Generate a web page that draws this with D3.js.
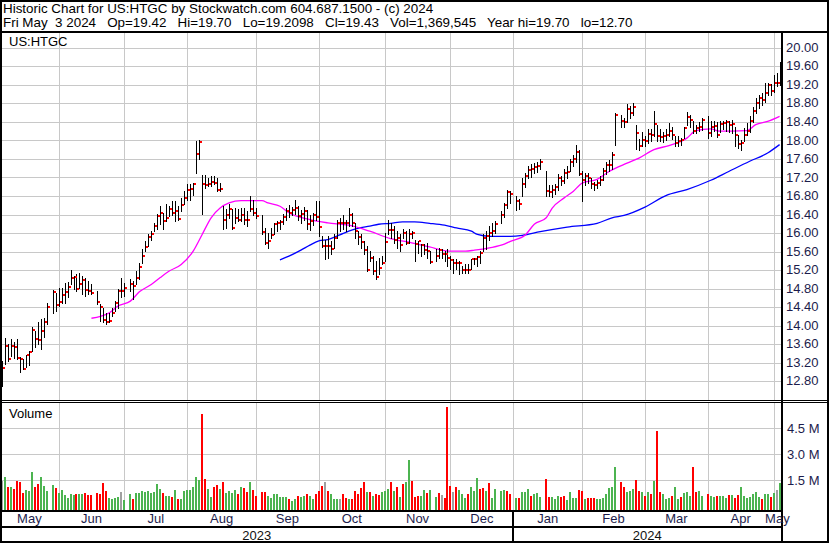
<!DOCTYPE html>
<html><head><meta charset="utf-8">
<script src="https://cdn.jsdelivr.net/npm/d3@7"></script>
<style>
body{margin:0;background:#fff}
svg{display:block}
text{font-family:"Liberation Sans",Arial,Helvetica,sans-serif}
</style>
</head><body>
<svg id="chart" width="830" height="543"></svg>
<script>
// ---------------- DATA ----------------
const titleLine1 = "Historic Chart for US:HTGC by Stockwatch.com 604.687.1500 - (c) 2024";
const titleLine2 = "Fri May  3 2024   Op=19.42   Hi=19.70   Lo=19.2098   Cl=19.43   Vol=1,369,545   Year hi=19.70   lo=12.70";
const symbol = "US:HTGC";
const startDate = "2023-05-05", endDate = "2024-05-03";
const holidays = ["2023-05-29","2023-06-19","2023-07-04","2023-09-04","2023-11-23","2023-12-25",
                  "2024-01-01","2024-01-15","2024-02-19","2024-03-29"];

const highs = [
 13.25,13.75,13.62,13.72,13.66,13.72,13.33,13.29,13.37,13.47,13.99,13.90,14.08,14.15,14.18,14.51,14.77,14.72,
 14.83,14.83,14.94,14.95,15.21,15.08,15.12,15.15,15.08,15.05,14.98,14.92,14.76,14.47,14.40,14.29,14.29,14.40,14.54,14.80,15.05,
 14.94,15.01,14.98,15.19,15.37,15.66,15.84,16.00,16.06,16.23,16.42,16.59,16.45,16.63,16.59,16.70,16.71,16.59,16.77,16.91,
 17.06,17.06,17.09,17.99,18.03,17.27,17.27,17.20,17.24,17.24,17.20,17.09,16.59,16.52,16.63,16.52,16.55,16.52,16.55,16.55,16.48,16.81,16.73,
 16.55,16.41,16.12,16.02,16.12,16.23,16.28,16.30,16.42,16.55,16.62,16.58,16.72,16.60,16.50,16.58,16.50,16.40,16.45,16.70,
 16.70,15.95,15.87,15.95,15.84,15.98,16.30,16.34,16.41,16.30,16.55,16.45,16.23,16.05,15.98,15.84,15.73,15.62,15.51,15.41,15.48,15.51,
 16.02,16.30,16.23,16.16,16.05,15.98,16.09,16.05,16.09,16.05,15.87,15.84,15.77,15.77,15.80,15.62,15.66,15.69,15.66,15.62,15.66,
 15.51,15.44,15.44,15.41,15.30,15.34,15.34,15.45,15.48,15.51,15.62,15.98,16.05,16.16,16.23,16.27,16.48,16.66,16.95,16.92,
 16.80,16.75,17.20,17.30,17.45,17.50,17.52,17.55,17.62,17.34,17.05,17.05,17.08,17.28,17.25,17.40,17.45,17.62,17.70,17.92,17.80,
 17.34,17.30,17.30,17.20,17.12,17.15,17.25,17.42,17.55,17.58,17.75,18.60,18.55,18.50,18.80,18.75,18.82,18.35,18.05,18.20,
 18.10,18.25,18.25,18.65,18.35,18.25,18.20,18.25,18.38,18.30,18.10,18.10,18.06,18.31,18.62,18.55,18.42,18.35,18.40,18.50,
 18.53,18.42,18.42,18.40,18.44,18.44,18.45,18.42,18.45,18.30,18.13,18.02,18.28,18.39,18.53,18.74,18.92,19.00,19.03,19.25,19.25,19.22,
 19.43,19.46,19.70];

const lows = [
 12.70,13.18,13.25,13.36,13.32,13.29,13.00,13.07,13.11,13.15,13.47,13.54,13.61,13.50,13.76,14.04,14.29,14.32,
 14.44,14.50,14.51,14.62,14.90,14.80,14.76,14.83,14.69,14.65,14.69,14.70,14.47,14.11,14.08,14.04,14.08,14.22,14.33,14.40,14.62,
 14.65,14.76,14.58,14.90,15.01,15.37,15.62,15.74,15.85,16.05,16.09,16.20,16.09,16.27,16.38,16.41,16.27,16.30,16.48,16.63,
 16.73,16.73,16.84,17.31,17.60,16.43,16.98,17.02,17.02,17.06,16.91,16.91,16.09,16.12,16.34,16.09,16.23,16.27,16.27,16.20,16.16,16.48,16.41,
 16.34,16.00,15.77,15.69,15.91,16.00,16.05,16.10,16.20,16.30,16.36,16.40,16.42,16.30,16.22,16.30,16.10,16.08,16.18,16.30,
 15.95,15.70,15.44,15.48,15.55,15.69,15.91,16.05,16.09,16.05,16.16,16.16,15.91,15.77,15.69,15.55,15.19,15.41,15.12,15.01,15.12,15.34,
 15.41,15.98,15.91,15.80,15.69,15.62,15.91,15.77,15.80,15.91,15.41,15.58,15.51,15.55,15.48,15.37,15.41,15.48,15.48,15.41,15.30,
 15.23,15.15,15.23,15.12,15.15,15.15,15.15,15.23,15.34,15.30,15.37,15.62,15.66,15.87,15.94,16.02,16.23,16.35,16.55,16.65,
 16.50,16.52,16.81,17.00,17.20,17.22,17.30,17.32,17.40,16.81,16.80,16.78,16.85,16.95,17.05,17.10,17.20,17.35,17.45,17.55,17.27,
 16.70,17.05,17.10,16.98,16.95,16.98,17.05,17.15,17.28,17.35,17.40,17.92,18.30,18.30,18.40,18.50,18.55,17.83,17.80,17.90,
 17.90,17.95,18.00,18.10,18.00,18.00,17.98,18.02,18.10,18.05,17.88,17.90,17.92,18.06,18.35,18.30,18.17,18.17,18.21,18.24,
 18.06,18.10,18.21,18.08,18.20,18.25,18.22,18.20,18.18,17.90,17.85,17.80,18.00,18.12,18.20,18.40,18.60,18.71,18.78,18.85,19.00,19.00,
 19.05,19.18,19.21];

const closes = [
 13.09,13.58,13.30,13.58,13.56,13.32,13.30,13.07,13.37,13.45,13.91,13.73,13.71,13.90,14.10,14.42,14.74,14.45,
 14.52,14.68,14.74,14.84,15.05,15.06,14.80,14.92,15.00,14.78,14.75,14.72,14.52,14.42,14.14,14.09,14.12,14.29,14.50,14.76,14.76,
 14.83,14.90,14.87,15.05,15.28,15.52,15.71,15.92,16.00,16.17,16.38,16.45,16.27,16.34,16.52,16.45,16.48,16.32,16.61,16.77,
 16.95,16.96,17.06,17.72,17.98,17.06,17.04,17.07,17.11,17.10,16.94,16.97,16.30,16.39,16.53,16.12,16.34,16.30,16.41,16.30,16.29,16.52,16.45,
 16.37,16.04,15.80,15.84,15.96,16.20,16.22,16.25,16.35,16.48,16.44,16.50,16.56,16.38,16.42,16.48,16.20,16.28,16.40,16.36,
 16.15,15.74,15.74,15.74,15.66,15.90,16.23,16.23,16.23,16.23,16.41,16.23,16.05,15.92,15.82,15.64,15.21,15.48,15.18,15.06,15.26,15.36,
 15.82,16.08,16.08,15.85,15.90,15.75,16.02,15.79,15.99,16.02,15.77,15.84,15.75,15.64,15.62,15.39,15.51,15.65,15.56,15.56,15.48,
 15.43,15.37,15.37,15.37,15.21,15.21,15.21,15.44,15.44,15.49,15.58,15.91,15.94,16.02,16.05,16.20,16.40,16.62,16.90,16.86,
 16.71,16.64,17.07,17.25,17.38,17.40,17.43,17.45,17.54,16.91,16.90,16.95,17.00,17.20,17.14,17.31,17.33,17.54,17.61,17.76,17.29,
 17.16,17.24,17.20,17.08,17.05,17.10,17.16,17.34,17.47,17.49,17.70,18.57,18.42,18.41,18.69,18.60,18.74,18.17,17.88,18.03,
 17.99,18.15,18.13,18.36,18.10,18.08,18.10,18.13,18.21,18.13,17.95,17.99,18.01,18.28,18.51,18.45,18.21,18.28,18.30,18.45,
 18.18,18.31,18.33,18.13,18.36,18.38,18.40,18.35,18.37,18.13,17.94,17.95,18.13,18.21,18.42,18.65,18.82,18.92,18.88,19.03,19.20,19.08,
 19.26,19.26,19.43];

// volume in millions of shares
const volumes = [
 1.48,1.71,1.10,1.13,0.98,1.46,1.40,0.79,0.94,0.88,1.98,1.10,1.29,1.71,1.19,0.88,1.23,1.07,
 0.79,0.94,0.65,0.50,0.71,0.65,0.71,0.71,0.71,0.79,0.65,0.65,0.75,0.71,1.36,0.88,0.46,0.40,0.46,0.52,0.81,
 0.36,0.71,0.40,0.75,0.79,0.88,0.85,0.88,0.79,0.85,1.29,0.98,0.75,0.59,0.59,0.55,0.94,0.40,0.40,0.88,
 0.94,0.94,1.10,1.71,1.52,5.33,1.56,1.00,0.55,1.13,1.23,0.98,1.38,0.79,0.90,0.79,0.94,0.71,1.10,1.04,0.84,1.38,0.94,
 0.61,0.84,0.84,0.59,0.50,0.71,0.71,0.55,0.52,0.52,0.42,0.32,0.42,0.59,0.55,0.59,0.71,0.61,0.42,0.71,
 0.90,1.17,1.42,0.90,0.71,0.42,0.42,0.42,0.71,0.50,0.42,0.42,0.90,0.71,1.07,1.42,0.84,0.84,0.61,0.71,0.65,0.84,
 0.90,1.00,1.42,0.90,1.10,0.55,1.29,1.42,2.67,1.48,0.55,0.59,0.59,0.94,0.75,0.94,0.55,0.75,0.65,0.50,5.75,
 1.17,0.84,1.10,0.94,0.69,0.50,0.71,1.10,0.90,1.61,1.00,1.04,0.90,1.33,0.50,1.00,0.90,0.94,0.88,0.71,
 0.50,0.50,0.81,0.81,1.00,0.59,0.69,0.75,0.52,1.58,0.55,0.52,0.42,0.59,0.52,0.59,0.36,0.81,0.50,0.50,0.94,
 0.88,0.42,0.46,0.46,0.46,0.42,0.42,0.50,0.71,1.07,1.13,2.28,1.42,1.13,0.84,0.90,1.00,1.52,0.90,0.84,
 0.61,0.84,0.69,1.46,4.34,0.84,0.71,0.42,0.50,0.59,1.10,0.42,0.55,0.75,0.84,0.59,2.28,0.84,0.88,0.59,
 0.71,0.59,0.55,0.59,0.59,0.59,0.46,0.65,0.65,0.50,0.65,1.10,0.59,0.50,0.55,0.71,0.84,0.52,0.42,0.71,0.69,0.55,
 0.75,0.94,1.37];

// volume bar colour: G = up, R = down, n = unchanged
const volumeDirection = (
 "nGRGRRRRGGGRRGGGGR" + "GGGGGGRGGRRRRRRRGGGGn" + "GGRGGGGGGGGGRGGRGRGG" +
 "GGGGGRRGGRRGRGGGGRGRRGR" + "RRRGGGGGGGRGGRGGRGGR" + "RRnRGGGnRRGRRRRRGRGRRG" +
 "GGRGRGRGGRRRGGRGGRnRR" + "RnRGGGRGGGRRGRGGGGRR" + "GRGGGRGGGRRGGGRRGGGGR" +
 "RGRRRGGGGGGGRRGGGRRG" + "RGRGRRGGGRGGRGGGRRGG" + "RGGRGGGRGRRGGGGGGGRGGR" + "GnG").split("");

// moving averages
const ma50Dates = ["2023-06-16","2023-06-21","2023-06-26","2023-06-29","2023-07-05","2023-07-10","2023-07-14","2023-07-19",
 "2023-07-24","2023-07-28","2023-08-03","2023-08-08","2023-08-11","2023-08-16","2023-08-21","2023-08-25","2023-09-05",
 "2023-09-07","2023-09-13","2023-09-18","2023-09-27","2023-10-05","2023-10-16","2023-10-25","2023-11-03","2023-11-14",
 "2023-11-22","2023-12-01","2023-12-08","2023-12-13","2023-12-20","2023-12-27","2023-12-29","2024-01-05","2024-01-10",
 "2024-01-16","2024-01-18","2024-01-24","2024-01-29","2024-02-01","2024-02-08","2024-02-14","2024-02-22","2024-02-28",
 "2024-03-06","2024-03-13","2024-03-21","2024-03-26","2024-04-02","2024-04-05","2024-04-11","2024-04-18","2024-04-23",
 "2024-04-29","2024-05-03"];
const ma50Values = [14.17,14.21,14.29,14.44,14.54,14.74,14.90,15.05,15.19,15.33,15.62,15.98,16.34,16.55,16.66,16.71,16.71,
 16.66,16.59,16.45,16.30,16.23,16.18,16.05,15.89,15.80,15.71,15.62,15.62,15.64,15.69,15.77,15.83,15.97,16.20,16.34,16.55,
 16.77,16.91,17.09,17.17,17.34,17.52,17.63,17.81,17.90,18.06,18.22,18.26,18.21,18.21,18.22,18.35,18.42,18.53];

const ma200Dates = ["2023-09-13","2023-09-18","2023-09-22","2023-09-27","2023-10-02","2023-10-05","2023-10-11","2023-10-16",
 "2023-10-19","2023-10-25","2023-10-30","2023-11-03","2023-11-09","2023-11-15","2023-11-22","2023-11-29","2023-12-05",
 "2023-12-12","2023-12-14","2023-12-20","2023-12-29","2024-01-04","2024-01-12","2024-01-25","2024-02-08","2024-02-15",
 "2024-02-21","2024-03-01","2024-03-12","2024-03-21","2024-04-02","2024-04-10","2024-04-19","2024-04-29","2024-05-03"];
const ma200Values = [15.43,15.51,15.64,15.75,15.84,15.87,15.97,16.05,16.11,16.16,16.20,16.22,16.25,16.25,16.22,16.18,16.12,
 16.05,15.98,15.94,15.94,15.96,16.04,16.14,16.22,16.34,16.39,16.57,16.82,16.95,17.15,17.34,17.56,17.74,17.92];

const priceTicks = [12.8,13.2,13.6,14.0,14.4,14.8,15.2,15.6,16.0,16.4,16.8,17.2,17.6,18.0,18.4,18.8,19.2,19.6,20.0];
const volumeTicks = [1.5,3.0,4.5];
const volumeTickLabels = ["1.5 M","3.0 M","4.5 M"];

// ---------------- CALENDAR ----------------
const DAY = 864e5;
const parse = s => { const [a,b,c] = s.split("-").map(Number); return Date.UTC(a,b-1,c); };
const fmt = t => new Date(t).toISOString().slice(0,10);
const weekdays = [];
for (let t = parse(startDate); t <= parse(endDate); t += DAY) {
  const wd = new Date(t).getUTCDay();
  if (wd !== 0 && wd !== 6) weekdays.push(t);
}
const slotOf = new Map(weekdays.map((t,i) => [fmt(t), i]));
const tradingDates = weekdays.map(fmt).filter(s => !holidays.includes(s));
const bars = tradingDates.map((d,i) => ({date:d, slot:slotOf.get(d), h:highs[i], l:lows[i], c:closes[i], v:volumes[i], dir:volumeDirection[i]}));

// ---------------- LAYOUT ----------------
const svg = d3.select("#chart");
const plotL = 0.2, plotR = 781.1;
const priceTop = 33, priceBot = 400;
const volTop = 403, volBot = 509.5;
const x = d3.scaleLinear().domain([-0.5, weekdays.length - 0.5]).range([plotL, plotR]);
const y = d3.scaleLinear().domain([12.8, 20.0]).range([381.7, 48.3]);
const yv = d3.scaleLinear().domain([0, 4.5]).range([506.3, 428.3]);
const px = v => Math.round(v) + 0.5;
const navy = "#1c1c4c", grid = "#c8c8c8";

svg.append("rect").attr("width",830).attr("height",543).attr("fill","#fff");

// month boundaries
const monthStarts = [];
weekdays.forEach((t,i) => {
  if (i > 0 && new Date(t).getUTCMonth() !== new Date(weekdays[i-1]).getUTCMonth()) monthStarts.push(i);
});
const gx = monthStarts.map(i => x(i));

// gridlines
const g = svg.append("g").attr("shape-rendering","crispEdges").attr("stroke",grid).attr("stroke-width",1);
g.selectAll(".vg").data(gx).join("line")
  .attr("x1",d=>px(d)).attr("x2",d=>px(d)).attr("y1",priceTop).attr("y2",priceBot);
g.selectAll(".vg2").data(gx).join("line")
  .attr("x1",d=>px(d)).attr("x2",d=>px(d)).attr("y1",volTop).attr("y2",volBot+0.5);
g.selectAll(".hg").data(priceTicks).join("line")
  .attr("x1",2).attr("x2",781).attr("y1",d=>px(y(d)-0.5)).attr("y2",d=>px(y(d)-0.5));
g.selectAll(".hv").data(volumeTicks).join("line")
  .attr("x1",2).attr("x2",781).attr("y1",d=>px(yv(d)-0.5)).attr("y2",d=>px(yv(d)-0.5));

// moving averages
const maLine = d3.line().x(d=>x(slotOf.get(d[0]))).y(d=>y(d[1])).curve(d3.curveMonotoneX);
svg.append("path").datum(ma200Dates.map((d,i)=>[d,ma200Values[i]]))
  .attr("d",maLine).attr("fill","none").attr("stroke","#0000ff").attr("stroke-width",1.3);
svg.append("path").datum(ma50Dates.map((d,i)=>[d,ma50Values[i]]))
  .attr("d",maLine).attr("fill","none").attr("stroke","#ff00ff").attr("stroke-width",1.3);

// price bars
const pb = svg.append("g").attr("shape-rendering","crispEdges");
pb.selectAll("line").data(bars).join("line")
  .attr("x1",d=>px(x(d.slot))).attr("x2",d=>px(x(d.slot)))
  .attr("y1",d=>Math.round(y(d.h))).attr("y2",d=>Math.round(y(d.l))+1)
  .attr("stroke","#000").attr("stroke-width",1);
pb.selectAll("rect").data(bars).join("rect")
  .attr("x",d=>Math.round(x(d.slot))+1).attr("y",d=>Math.round(y(d.c))-1)
  .attr("width",2).attr("height",2).attr("fill","#ff0000");

// volume bars
const volColor = {G:"#4cb450", R:"#ff0000", n:"#a0a0a0"};
svg.append("g").attr("shape-rendering","crispEdges").selectAll("rect").data(bars).join("rect")
  .attr("x",d=>Math.round(x(d.slot))-1).attr("width",2)
  .attr("y",d=>yv(d.v)).attr("height",d=>volBot-yv(d.v))
  .attr("fill",d=>volColor[d.dir]);

// frame lines
const fr = svg.append("g").attr("stroke","#000").attr("shape-rendering","crispEdges");
fr.append("rect").attr("x",1).attr("y",1).attr("width",827).attr("height",541).attr("fill","none").attr("stroke-width",2);
fr.append("line").attr("x1",0).attr("x2",829).attr("y1",32).attr("y2",32).attr("stroke-width",2);
fr.append("line").attr("x1",0).attr("x2",829).attr("y1",400.5).attr("y2",400.5).attr("stroke-width",1);
fr.append("line").attr("x1",0).attr("x2",829).attr("y1",402.5).attr("y2",402.5).attr("stroke-width",1);
fr.append("line").attr("x1",0).attr("x2",783).attr("y1",511).attr("y2",511).attr("stroke-width",2);
fr.append("line").attr("x1",0).attr("x2",783).attr("y1",527).attr("y2",527).attr("stroke-width",2);
fr.append("line").attr("x1",782).attr("x2",782).attr("y1",31).attr("y2",542).attr("stroke-width",2.5);

// year separator
const yearStarts = monthStarts.filter(i => new Date(weekdays[i]).getUTCFullYear() !== new Date(weekdays[i-1]).getUTCFullYear());
fr.selectAll(".ys").data(yearStarts).join("line")
  .attr("x1",i=>Math.round(x(i))).attr("x2",i=>Math.round(x(i))).attr("y1",511).attr("y2",542).attr("stroke-width",2);

// texts
svg.append("text").attr("x",3).attr("y",13).attr("font-size",13.4).attr("fill","#000").style("white-space","pre").text(titleLine1);
svg.append("text").attr("x",3).attr("y",26.5).attr("font-size",13.4).attr("fill","#000").style("white-space","pre").text(titleLine2);
svg.append("text").attr("x",9).attr("y",46).attr("font-size",13).attr("fill","#000").text(symbol);
svg.append("text").attr("x",9).attr("y",418).attr("font-size",13).attr("fill","#000").text("Volume");

svg.selectAll(".pl").data(priceTicks).join("text")
  .attr("x",786).attr("y",d=>y(d)+3.6).attr("font-size",13).attr("fill",navy).text(d=>d.toFixed(2));
svg.selectAll(".vl").data(volumeTicks).join("text")
  .attr("x",787).attr("y",d=>yv(d)+4.6).attr("font-size",13).attr("fill",navy).text((d,i)=>volumeTickLabels[i]);

// month labels
const edges = [plotL, ...gx, plotR];
const monthNames = [0, ...monthStarts].map(i => d3.utcFormat("%b")(new Date(weekdays[i])));
svg.selectAll(".ml").data(monthNames).join("text")
  .attr("x",(d,i)=>(edges[i]+edges[i+1])/2).attr("y",522.5).attr("text-anchor","middle")
  .attr("font-size",13).attr("fill",navy).text(d=>d);

// year labels
const yEdges = [plotL, ...yearStarts.map(i=>x(i)), plotR];
const yearNames = [0, ...yearStarts].map(i => String(new Date(weekdays[i]).getUTCFullYear()));
svg.selectAll(".yl").data(yearNames).join("text")
  .attr("x",(d,i)=>(yEdges[i]+yEdges[i+1])/2).attr("y",539.5).attr("text-anchor","middle")
  .attr("font-size",13).attr("fill","#111").text(d=>d);

// sanity check
const n = tradingDates.length;
if ([highs,lows,closes,volumes,volumeDirection].some(a=>a.length!==n))
  svg.append("text").attr("x",300).attr("y",300).attr("fill","red").attr("font-size",20)
   .text("LEN "+n+" "+[highs,lows,closes,volumes,volumeDirection].map(a=>a.length).join(","));
</script>
</body></html>
